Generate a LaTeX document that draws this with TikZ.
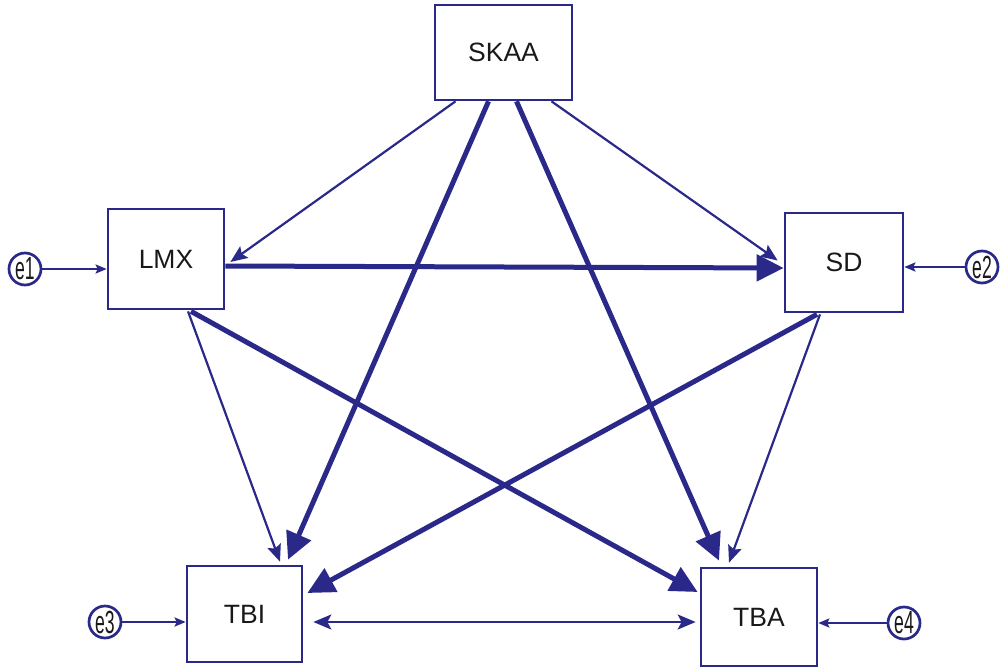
\documentclass[tikz,border=0pt]{standalone}
\usepackage{fontspec}
\setmainfont{Liberation Sans}
\usetikzlibrary{arrows.meta,calc}
\definecolor{navy}{RGB}{42,41,138}
\definecolor{txt}{RGB}{25,25,25}
\tikzset{
  box/.style={draw=navy,line width=2.7pt,fill=white,inner sep=0pt,
    font=\fontsize{26.5}{30}\selectfont,text=txt},
  err/.style={draw=navy,circle,line width=2.7pt,minimum size=32pt,inner sep=0pt,
    fill=white,text=txt},
  thin/.style={draw=navy,line width=2.2pt,-{Stealth[length=17pt,width=14pt,inset=3pt]}},
  thick/.style={draw=navy,line width=5pt,-{Triangle[length=27pt,width=26pt]}},
  errarrow/.style={draw=navy,line width=2.2pt,-{Stealth[length=11pt,width=9pt,inset=2pt]}},
  both/.style={draw=navy,line width=2.2pt,{Stealth[length=18pt,width=15pt,inset=4pt]}-{Stealth[length=18pt,width=15pt,inset=4pt]}}
}
\newcommand{\elab}[1]{\scalebox{0.55}[1]{\fontsize{32}{34}\selectfont #1}}
\begin{document}
\begin{tikzpicture}[x=1pt,y=-1pt]
\useasboundingbox (0,0) rectangle (1008,671);
\node[box,minimum width=137pt,minimum height=95pt] (skaa) at (503.5,52.5) {SKAA};
\node[box,minimum width=116pt,minimum height=100pt] (lmx) at (166,259) {LMX};
\node[box,minimum width=118pt,minimum height=99pt] (sd) at (844,262.5) {SD};
\node[box,minimum width=115pt,minimum height=96pt] (tbi) at (244.5,614) {TBI};
\node[box,minimum width=116pt,minimum height=98pt] (tba) at (759,617) {TBA};
\node[err] (e1) at (25,269) {\elab{e1}};
\node[err] (e2) at (982,267) {\elab{e2}};
\node[err] (e3) at (105,622) {\elab{e3}};
\node[err] (e4) at (904,623) {\elab{e4}};
% from SKAA
\draw[thin] ($(skaa.south)+(-48,0)$) -- ($(lmx.east)+(5,3)$);
\draw[thin] ($(skaa.south)+(48,0)$) -- ($(sd.west)+(-6,-2)$);
\draw[thick] ($(skaa.south)+(-15,0)$) -- ($(tbi.north)+(43.5,-5)$);
\draw[thick] ($(skaa.south)+(13,0)$) -- ($(tba.north)+(-40,-6)$);
% from LMX
\draw[thick] ($(lmx.east)+(0,7)$) -- ($(sd.west)+(0,5.5)$);
\draw[thin] ($(lmx.south)+(22,1)$) -- ($(tbi.north)+(35.5,-3)$);
\draw[thick] ($(lmx.south)+(25,1)$) -- ($(tba.west)+(-2,-25)$);
% from SD
\draw[thick] ($(sd.south)+(-27,1)$) -- ($(tbi.east)+(4,-21)$);
\draw[thin] ($(sd.south)+(-24,1)$) -- ($(tba.north)+(-30,-4)$);
% TBI <-> TBA
\draw[both] ($(tbi.east)+(10,8)$) -- ($(tba.west)+(-4,5)$);
% errors
\draw[errarrow] (e1) -- (e1 -| lmx.west);
\draw[errarrow] (e2) -- (e2 -| sd.east);
\draw[errarrow] (e3) -- (e3 -| tbi.west);
\draw[errarrow] (e4) -- (e4 -| tba.east);
\end{tikzpicture}
\end{document}
